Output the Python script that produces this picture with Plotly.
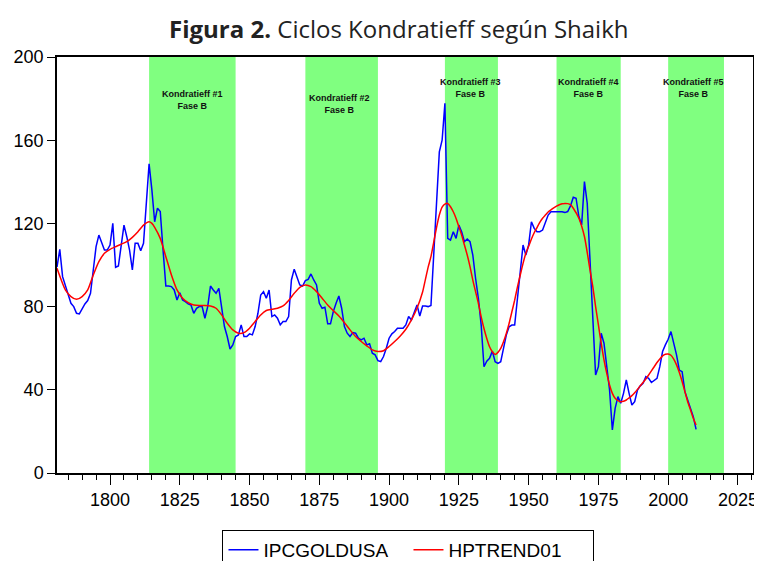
import plotly.graph_objects as go

# ---------------- data ----------------
years = list(range(1781, 2011))
ipcgoldusa = [
    99.0, 107.5, 94.4, 90.4, 85.6, 81.6, 80.0, 76.8, 76.5, 79.2,          # 1781-1790
    81.3, 82.9, 86.4, 97.6, 108.8, 114.4, 111.2, 107.2, 107.2, 109.6,     # 1791-1800
    120.0, 98.9, 99.5, 109.6, 119.2, 113.6, 107.2, 97.6, 110.4, 110.4,    # 1801-1810
    106.9, 110.4, 127.3, 148.6, 136.1, 120.8, 127.3, 125.7, 107.2, 89.9,  # 1811-1820
    89.9, 89.6, 88.0, 83.2, 86.7, 83.2, 82.4, 81.3, 80.8, 76.8,           # 1821-1830
    79.2, 80.0, 80.0, 74.4, 80.0, 89.9, 88.0, 86.4, 88.8, 78.4,           # 1831-1840
    70.4, 65.6, 59.6, 61.6, 65.6, 66.4, 71.2, 65.6, 65.6, 66.9,           # 1841-1850
    66.4, 70.4, 76.8, 85.6, 87.2, 84.0, 88.0, 75.2, 76.0, 74.4,           # 1851-1860
    71.2, 72.8, 72.8, 75.2, 92.8, 98.0, 94.4, 90.4, 89.9, 92.5,           # 1861-1870
    93.1, 95.7, 92.8, 90.4, 81.6, 79.2, 79.7, 71.7, 71.7, 77.6,           # 1871-1880
    81.6, 85.1, 79.2, 70.4, 67.2, 65.6, 67.5, 67.2, 64.8, 64.0,           # 1881-1890
    64.8, 61.6, 62.1, 57.6, 56.8, 54.0, 53.6, 56.0, 60.0, 64.8,           # 1891-1900
    66.9, 68.0, 69.6, 69.6, 69.6, 71.2, 75.2, 73.6, 76.8, 80.8,           # 1901-1910
    75.5, 80.3, 80.3, 80.0, 80.5, 104.0, 133.0, 154.4, 160.0, 177.7,      # 1911-1920
    112.8, 112.0, 116.0, 112.8, 119.2, 116.0, 111.2, 112.5, 111.2, 104.8, # 1921-1930
    93.5, 83.9, 71.1, 51.1, 53.8, 55.1, 58.6, 53.5, 52.7, 53.5,           # 1931-1940
    59.9, 66.3, 70.3, 71.1, 71.1, 83.9, 96.8, 109.6, 104.8, 109.6,        # 1941-1950
    120.8, 117.6, 116.0, 116.0, 116.8, 120.8, 124.0, 125.6, 125.6, 125.6, # 1951-1960
    125.6, 125.6, 125.2, 125.7, 128.4, 132.6, 132.1, 123.3, 119.3, 140.1, # 1961-1970
    129.7, 102.4, 81.6, 47.1, 51.1, 67.2, 62.4, 51.1, 39.9, 20.7,         # 1971-1980
    31.1, 36.7, 33.5, 38.3, 44.7, 38.3, 32.7, 34.3, 39.9, 41.9,           # 1981-1990
    43.1, 46.3, 45.5, 43.5, 44.7, 45.5, 51.1, 58.4, 61.6, 64.3,           # 1991-2000
    68.0, 62.4, 56.8, 49.5, 48.7, 39.1, 35.1, 30.3, 27.1, 21.0,           # 2001-2010
]

hp_years = [
    1781, 1784, 1786, 1788, 1790, 1792, 1794, 1796, 1798, 1800,
    1802, 1804, 1806, 1808, 1810, 1812, 1814, 1815, 1816, 1818,
    1820, 1822, 1824, 1826, 1828, 1830, 1832, 1834, 1836, 1838,
    1840, 1842, 1844, 1846, 1848, 1850, 1852, 1854, 1856, 1858,
    1860, 1862, 1864, 1866, 1868, 1870, 1872, 1874, 1876, 1878,
    1880, 1882, 1884, 1886, 1888, 1890, 1892, 1894, 1896, 1898,
    1900, 1902, 1904, 1906, 1908, 1910, 1912, 1913, 1914, 1915,
    1916, 1917, 1918, 1919, 1920, 1921, 1922, 1923, 1924, 1925,
    1926, 1927, 1928, 1929, 1930, 1931, 1932, 1933, 1934, 1935,
    1936, 1937, 1938, 1939, 1940, 1941, 1942, 1943, 1944, 1945,
    1946, 1947, 1948, 1949, 1950, 1951, 1952, 1953, 1954, 1955,
    1956, 1957, 1958, 1959, 1960, 1961, 1962, 1963, 1964, 1965,
    1966, 1968, 1970, 1972, 1973, 1974, 1975, 1976, 1977, 1978,
    1979, 1980, 1981, 1982, 1983, 1984, 1985, 1986, 1987, 1988,
    1989, 1990, 1991, 1992, 1993, 1994, 1995, 1996, 1997, 1998,
    1999, 2000, 2001, 2002, 2003, 2004, 2005, 2006, 2007, 2008,
    2009, 2010,
]
hptrend01 = [
    98.4, 88.0, 84.8, 83.5, 84.8, 88.0, 95.2, 101.6, 105.6, 107.5,
    108.8, 110.0, 111.2, 113.3, 116.0, 119.2, 120.8, 120.0, 118.1, 112.8,
    104.0, 95.2, 88.0, 84.0, 81.9, 80.8, 80.5, 80.5, 80.3, 79.2,
    76.0, 72.0, 68.8, 67.2, 67.5, 69.6, 72.8, 76.0, 78.1, 78.7,
    79.2, 80.3, 82.9, 86.4, 89.3, 90.4, 89.6, 87.2, 84.0, 80.8,
    78.1, 75.5, 72.3, 68.8, 65.6, 63.2, 61.1, 59.2, 58.4, 58.8,
    60.8, 63.2, 65.9, 69.1, 73.6, 79.2, 87.0, 93.0, 99.0, 104.0,
    111.0, 118.0, 124.0, 127.8, 129.3, 129.6, 128.0, 125.6, 122.4, 118.4,
    114.4, 109.6, 104.8, 99.2, 92.7, 87.1, 81.5, 75.1, 69.5, 64.7,
    60.7, 58.3, 57.0, 58.0, 59.9, 63.1, 67.1, 71.9, 77.5, 83.1,
    89.5, 95.2, 100.8, 105.6, 109.0, 112.5, 115.5, 118.0, 120.5, 122.5,
    124.0, 125.5, 126.5, 127.5, 128.3, 129.0, 129.4, 129.6, 129.5, 129.0,
    127.3, 122.5, 113.7, 97.6, 89.6, 80.0, 71.2, 62.4, 54.4, 47.9,
    42.3, 38.3, 35.9, 34.8, 34.3, 34.5, 35.1, 36.1, 37.2, 38.6,
    40.2, 41.9, 43.5, 45.2, 47.1, 49.1, 51.1, 53.1, 54.8, 56.3,
    57.1, 57.2, 56.6, 54.8, 52.0, 48.3, 44.0, 39.1, 34.3, 30.3,
    26.3, 23.1,
]

phase_start = [1814, 1870, 1920, 1960, 2000]
phase_end = [1845, 1896, 1939, 1983, 2020]
phase_labels = ["Kondratieff #1<br>Fase B", "Kondratieff #2<br>Fase B",
                "Kondratieff #3<br>Fase B", "Kondratieff #4<br>Fase B",
                "Kondratieff #5<br>Fase B"]

y_ticks = [0, 40, 80, 120, 160, 200]
x_ticks = [1800, 1825, 1850, 1875, 1900, 1925, 1950, 1975, 2000, 2025]

# ---------------- layout constants ----------------
# the page body has an 8px margin, so the figure is sized to fill the rest of the window
label_x = [1829.4, 1882.4, 1929.0, 1971.6, 2009.2]
label_y = [179.3, 177.4, 184.9, 185.3, 185.3]
FONT = "Arial, Liberation Sans, sans-serif"

fig = go.Figure()
fig.add_trace(go.Scatter(x=years, y=ipcgoldusa, mode="lines", name="IPCGOLDUSA",
                         line=dict(color="#0000FF", width=1.5)))
fig.add_trace(go.Scatter(x=hp_years, y=hptrend01, mode="lines", name="HPTREND01",
                         line=dict(color="#FF0000", width=1.5, shape="spline", smoothing=0.6)))

shapes = []
for s, e in zip(phase_start, phase_end):
    shapes.append(dict(type="rect", xref="x", yref="paper", x0=s, x1=e, y0=0, y1=1,
                       fillcolor="#80FF80", line=dict(width=0), layer="below"))

annotations = []
for lx, ly, txt in zip(label_x, label_y, phase_labels):
    annotations.append(dict(x=lx, y=ly, xref="x", yref="y", text="<b>" + txt + "</b>",
                            showarrow=False, font=dict(family=FONT, size=9, color="#111111"),
                            align="center", xanchor="center", yanchor="middle"))
annotations.append(dict(x=0.49, y=1.0697, xref="paper", yref="paper",
                        text="<b>Figura 2.</b> Ciclos Kondratieff según Shaikh",
                        showarrow=False, xanchor="center", yanchor="middle",
                        font=dict(family="Open Sans, sans-serif", size=24, color="#222222")))

fig.update_layout(
    width=754, height=553,
    margin=dict(l=49, r=9, t=49, b=88, autoexpand=False),
    plot_bgcolor="white", paper_bgcolor="white",
    font=dict(family=FONT, size=18, color="black"),
    shapes=shapes, annotations=annotations,
    showlegend=True,
    legend=dict(orientation="h", x=0.505, xanchor="center", y=-0.137, yanchor="top",
                bordercolor="black", borderwidth=1, bgcolor="white",
                entrywidth=140, entrywidthmode="pixels",
                font=dict(family=FONT, size=19, color="black")),
)
fig.update_xaxes(range=[1781, 2030.4], tickvals=x_ticks, ticks="outside", ticklen=10,
                 tickcolor="black", showline=True, linecolor="black", linewidth=1.5,
                 mirror=True, showgrid=False, zeroline=False, automargin=False,
                 minor=dict(dtick=5, tick0=1800, ticks="outside", ticklen=5, tickcolor="black"))
fig.update_yaxes(range=[0, 200], tickvals=y_ticks, ticks="outside", ticklen=8,
                 tickcolor="black", showline=True, linecolor="black", linewidth=1.5,
                 mirror=True, showgrid=False, zeroline=False, automargin=False)

fig.write_html("out.html")
